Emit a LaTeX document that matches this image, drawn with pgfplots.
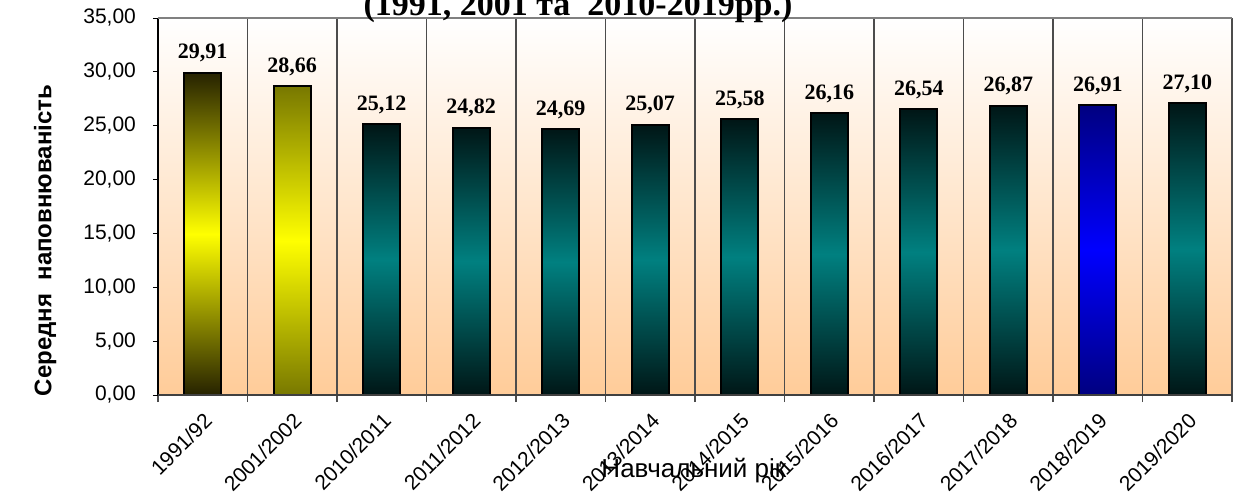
\documentclass[border=0pt]{standalone}
\usepackage{fontspec}
\setmainfont{Liberation Serif}
\setsansfont{Liberation Sans}
\usepackage{pgfplots}
\pgfplotsset{compat=1.18}

\definecolor{peach}{RGB}{255,204,153}
\definecolor{darkolive}{RGB}{38,34,0}
\definecolor{olive2}{RGB}{120,120,0}
\definecolor{darkteal}{RGB}{0,22,22}
\definecolor{tealmid}{RGB}{0,128,128}
\definecolor{navy2}{RGB}{0,0,128}

% dark - bright - dark; the path fills the 25bp..75bp part of the shading
\pgfdeclareverticalshading{shA}{100bp}{color(0bp)=(darkolive); color(25bp)=(darkolive); color(50bp)=(yellow); color(75bp)=(darkolive); color(100bp)=(darkolive)}
\pgfdeclareverticalshading{shB}{100bp}{color(0bp)=(olive2); color(25bp)=(olive2); color(50bp)=(yellow); color(75bp)=(olive2); color(100bp)=(olive2)}
\pgfdeclareverticalshading{shT}{100bp}{color(0bp)=(darkteal); color(25bp)=(darkteal); color(50bp)=(tealmid); color(75bp)=(darkteal); color(100bp)=(darkteal)}
\pgfdeclareverticalshading{shN}{100bp}{color(0bp)=(navy2); color(25bp)=(navy2); color(50bp)=(blue); color(75bp)=(navy2); color(100bp)=(navy2)}

\pgfplotsset{
  barbase/.style={ybar, bar width=18.5pt, bar shift=0pt, draw=black, line width=1pt},
}

\begin{document}
\begin{tikzpicture}
\begin{axis}[
    scale only axis,
    width=537pt, height=188.5pt,
    xmin=-0.5, xmax=11.5,
    ymin=0, ymax=35,
    ytick={0,5,...,35},
    xtick={0,...,11},
    xticklabels={1991/92,2001/2002,2010/2011,2011/2012,2012/2013,2013/2014,
                 2014/2015,2015/2016,2016/2017,2017/2018,2018/2019,2019/2020},
    minor xtick={-0.5,0.5,...,11.5},
    xminorgrids=true,
    minor x grid style={draw=black!70, line width=0.7pt},
    xtick pos=bottom, ytick pos=left,
    tick align=outside,
    major tick length=2.5pt,
    minor tick length=3.5pt,
    xtick style={draw=none},
    minor x tick style={draw=black!70, line width=0.6pt},
    ytick style={draw=black, line width=0.5pt},
    axis line style={draw=none},
    axis background/.style={top color=white, bottom color=peach},
    yticklabel style={font=\sffamily\fontsize{10.5}{12}\selectfont, xshift=-5pt,
      /pgf/number format/fixed, /pgf/number format/fixed zerofill,
      /pgf/number format/precision=2, /pgf/number format/use comma,
      /pgf/number format/assume math mode=true},
    xticklabel style={font=\sffamily\fontsize{10.5}{12}\selectfont,
      rotate=45, anchor=north east, inner sep=1pt, yshift=-3pt, xshift=-3pt},
    ylabel={Середня\ \ наповнюваність},
    ylabel style={font=\sffamily\bfseries\fontsize{12}{14}\selectfont,
      at={(axis description cs:-0.105,0.41)}, anchor=center, rotate=0},
    xlabel={Навчальний рік},
    xlabel style={font=\sffamily\fontsize{13}{15}\selectfont,
      at={(axis description cs:0.499,-0.22)}, anchor=base, inner sep=0pt},
]
\addplot[barbase, shade, shading=shA] coordinates {(0,29.91)};
\addplot[barbase, shade, shading=shB] coordinates {(1,28.66)};
\addplot[barbase, shade, shading=shT] coordinates {(2,25.12)};
\addplot[barbase, shade, shading=shT] coordinates {(3,24.82)};
\addplot[barbase, shade, shading=shT] coordinates {(4,24.69)};
\addplot[barbase, shade, shading=shT] coordinates {(5,25.07)};
\addplot[barbase, shade, shading=shT] coordinates {(6,25.58)};
\addplot[barbase, shade, shading=shT] coordinates {(7,26.16)};
\addplot[barbase, shade, shading=shT] coordinates {(8,26.54)};
\addplot[barbase, shade, shading=shT] coordinates {(9,26.87)};
\addplot[barbase, shade, shading=shN] coordinates {(10,26.91)};
\addplot[barbase, shade, shading=shT] coordinates {(11,27.10)};
% value labels
\addplot[ybar, bar width=18.5pt, bar shift=0pt, draw=none, fill=none,
  nodes near coords={\pgfmathprintnumber[fixed,fixed zerofill,precision=2,use comma,assume math mode=true]{\pgfplotspointmeta}},
  every node near coord/.append style={font=\rmfamily\bfseries\fontsize{11}{12}\selectfont,
    anchor=base, yshift=7pt, color=black}]
  coordinates {(0,29.91) (1,28.66) (2,25.12) (3,24.82) (4,24.69) (5,25.07)
               (6,25.58) (7,26.16) (8,26.54) (9,26.87) (10,26.91) (11,27.10)};
\end{axis}
% axis frame: black left, dark bottom, grey top
\draw[black, line width=0.7pt] (0,0) -- (0,188.5pt);
\draw[black!75, line width=0.7pt] (0,0) -- (537pt,0);
\draw[black!50, line width=1pt] (0,188.5pt) -- (537pt,188.5pt);
\node[anchor=base, inner sep=0pt, font=\rmfamily\bfseries\fontsize{17}{20}\selectfont]
  at (210pt,190pt) {(1991, 2001 та\ \ 2010-2019рр.)};
\pgfresetboundingbox
\path[use as bounding box] (-79pt,-52.5pt) rectangle (537.5pt,197.5pt);
\end{tikzpicture}
\end{document}
